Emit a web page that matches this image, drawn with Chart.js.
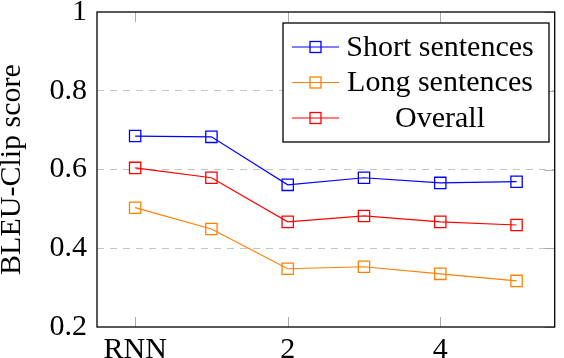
<!DOCTYPE html>
<html>
<head>
<meta charset="utf-8">
<script src="https://cdn.jsdelivr.net/npm/chart.js@4"></script>
<style>
  html, body { margin: 0; padding: 0; background: #fff; }
  #wrap { width: 564px; height: 358px; position: relative; }
</style>
</head>
<body>
<div id="wrap"><canvas id="chart"></canvas></div>
<script>
// data
const categories = ['RNN', '1', '2', '3', '4', '5'];
const shownLabels = ['RNN', '2', '4'];
const shortSentences = [0.685, 0.683, 0.561, 0.579, 0.566, 0.569];
const longSentences = [0.503, 0.449, 0.348, 0.353, 0.335, 0.317];
const overall = [0.604, 0.579, 0.467, 0.482, 0.467, 0.459];
const yTicks = [0.2, 0.4, 0.6, 0.8, 1];

const serif = 'Liberation Serif';
const fontSize = 30;

function makeSet(label, data, color) {
    return {
        label: label,
        data: data,
        borderColor: color,
        backgroundColor: color,
        borderWidth: 1.2,
        pointStyle: 'rect',
        pointRadius: 8,
        pointBorderWidth: 1.3,
        pointBorderColor: color,
        pointBackgroundColor: 'rgba(0,0,0,0)',
        tension: 0
    }
}

// frame, pgfplots style tick marks and the boxed legend
const framePlugin = {
    id: 'frame',
    afterDatasetsDraw(chart) {
        const ctx = chart.ctx;
        const a = chart.chartArea;
        const xs = chart.scales.x;
        const ys = chart.scales.y;
        ctx.save();

        ctx.strokeStyle = '#aaaaaa';
        ctx.lineWidth = 1;
        shownLabels.forEach((lab) => {
            const px = Math.round(xs.getPixelForValue(categories.indexOf(lab))) + 0.5;
            ctx.beginPath();
            ctx.moveTo(px, a.bottom); ctx.lineTo(px, a.bottom - 10);
            ctx.moveTo(px, a.top); ctx.lineTo(px, a.top + 10);
            ctx.stroke();
        });
        yTicks.forEach((v) => {
            const py = Math.round(ys.getPixelForValue(v)) + 0.5;
            ctx.beginPath();
            ctx.moveTo(a.right, py); ctx.lineTo(a.right - 10, py);
            ctx.stroke();
        });

        ctx.strokeStyle = '#000';
        ctx.lineWidth = 1.3;
        ctx.strokeRect(a.left, a.top, a.right - a.left, a.bottom - a.top);

        // legend
        const box = { left: 283, top: 23, right: 549, bottom: 142 };
        ctx.fillStyle = '#fff';
        ctx.fillRect(box.left, box.top, box.right - box.left, box.bottom - box.top);
        ctx.strokeRect(box.left, box.top, box.right - box.left, box.bottom - box.top);
        ctx.font = fontSize + 'px "' + serif + '"';
        ctx.textAlign = 'center';
        ctx.textBaseline = 'middle';
        chart.data.datasets.forEach((ds, i) => {
            const cy = 47 + i * 35.5;
            ctx.strokeStyle = ds.borderColor;
            ctx.lineWidth = 1.2;
            ctx.beginPath();
            ctx.moveTo(292, cy); ctx.lineTo(339, cy);
            ctx.stroke();
            ctx.lineWidth = 1.3;
            ctx.strokeRect(310, cy - 5.5, 11, 11);
            ctx.fillStyle = '#000';
            ctx.fillText(ds.label, 440, cy + 1);
        });
        ctx.restore();
    }
};

window.addEventListener('load', () => {
    const ctx = document.getElementById('chart').getContext('2d');
    new Chart(ctx, {
        type: 'line',
        data: {
            labels: categories,
            datasets: [
                makeSet('Short sentences', shortSentences, '#0000ff'),
                makeSet('Long sentences', longSentences, '#ff8000'),
                makeSet('Overall', overall, '#ff0000')
            ]
        },
        options: {
            responsive: true,
            maintainAspectRatio: false,
            animation: false,
            devicePixelRatio: 1,
            layout: { padding: { top: 12, right: 2, left: 0, bottom: 0 } },
            plugins: {
                legend: { display: false },
                tooltip: { enabled: false }
            },
            scales: {
                x: {
                    type: 'category',
                    offset: true,
                    grid: { display: false, offset: false },
                    border: { display: false },
                    afterFit: (s) => {
                        s.height = 31;
                        s.paddingLeft = 0; s.paddingRight = 0;
                    },
                    ticks: {
                        autoSkip: false,
                        maxRotation: 0,
                        padding: -3,
                        color: '#000',
                        font: { family: serif, size: fontSize },
                        callback: function (value) {
                            const lab = this.getLabelForValue(value);
                            return shownLabels.includes(lab) ? lab : '';
                        }
                    }
                },
                y: {
                    min: 0.2,
                    max: 1,
                    afterBuildTicks: (s) => { s.ticks = yTicks.map((v) => ({ value: v })); },
                    afterFit: (s) => {
                        s.width = 97;
                        s.paddingTop = 0; s.paddingBottom = 0;
                    },
                    grid: {
                        drawTicks: false,
                        color: (c) => (c.tick && (c.tick.value === 0.2 || c.tick.value === 1)) ? 'rgba(0,0,0,0)' : '#c4c4c4',
                        lineWidth: 1
                    },
                    border: { display: false, dash: [7, 6] },
                    title: {
                        display: true,
                        text: 'BLEU-Clip score',
                        color: '#000',
                        font: { family: serif, size: fontSize, lineHeight: 1 },
                        padding: { top: -3, bottom: 0 }
                    },
                    ticks: {
                        padding: 10,
                        color: '#000',
                        font: { family: serif, size: fontSize },
                        callback: (v) => String(Number(v.toFixed(1)))
                    }
                }
            }
        },
        plugins: [framePlugin]
    });
});
</script>
</body>
</html>
